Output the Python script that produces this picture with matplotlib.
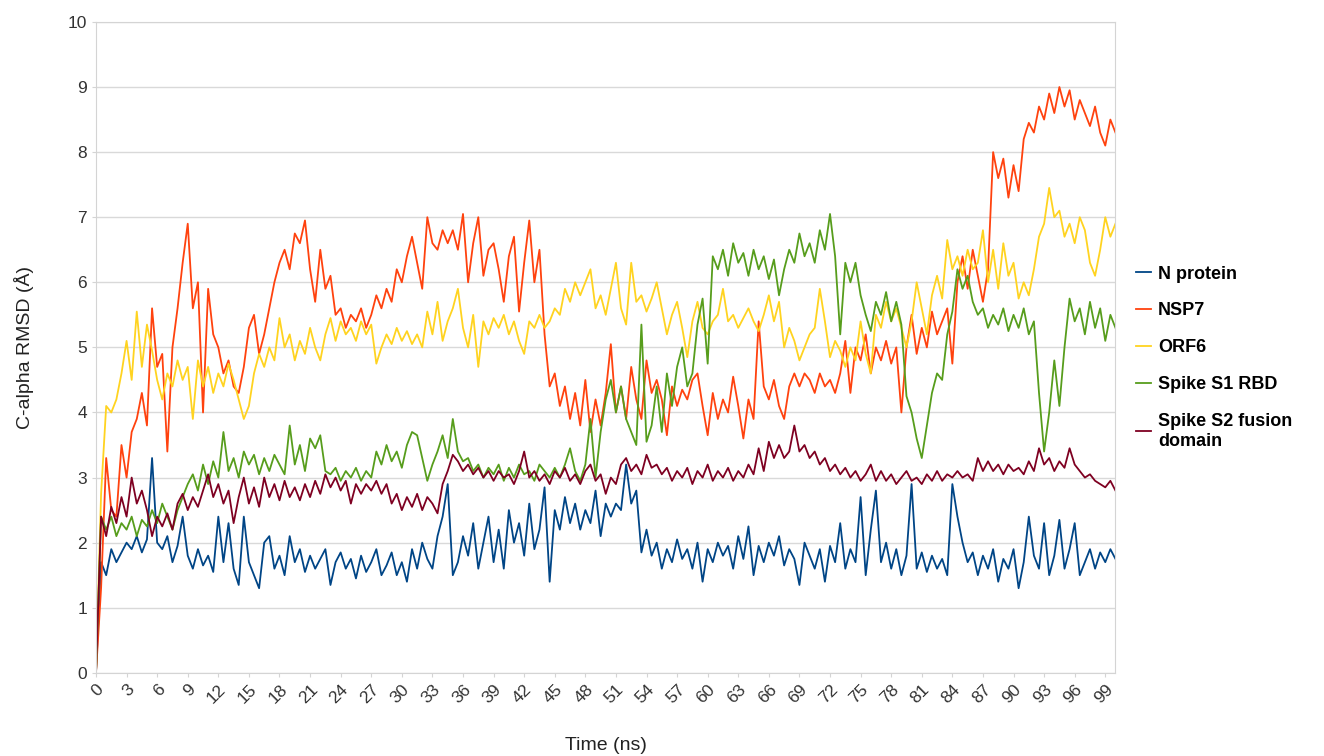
import numpy as np
import matplotlib
matplotlib.use("Agg")
import matplotlib.pyplot as plt

plt.rcParams['font.family'] = ['Liberation Sans', 'DejaVu Sans']

# time axis, one sample every 0.5 ns
time_ns = np.arange(0, 100.5, 0.5)

n_protein = [
    0.0, 1.7, 1.5, 1.9, 1.7, 1.85, 2.0, 1.9, 2.1, 1.85, 2.05, 3.3, 2.0, 1.9, 2.1, 1.7, 1.95, 2.4, 1.8, 1.6,
    1.9, 1.65, 1.8, 1.55, 2.4, 1.7, 2.3, 1.6, 1.35, 2.4, 1.7, 1.5, 1.3, 2.0, 2.1, 1.6, 1.8, 1.5, 2.1, 1.7,
    1.9, 1.55, 1.8, 1.6, 1.75, 1.9, 1.35, 1.7, 1.85, 1.6, 1.75, 1.45, 1.8, 1.55, 1.7, 1.9, 1.5, 1.65, 1.85, 1.5,
    1.7, 1.4, 1.9, 1.6, 2.0, 1.75, 1.6, 2.1, 2.4, 2.9, 1.5, 1.7, 2.1, 1.8, 2.3, 1.6, 2.0, 2.4, 1.7, 2.2,
    1.6, 2.5, 2.0, 2.3, 1.8, 2.6, 1.9, 2.2, 2.85, 1.4, 2.5, 2.2, 2.7, 2.3, 2.6, 2.2, 2.5, 2.3, 2.8, 2.1,
    2.6, 2.4, 2.6, 2.5, 3.2, 2.6, 2.8, 1.85, 2.2, 1.8, 2.0, 1.6, 1.9, 1.7, 2.05, 1.75, 1.9, 1.6, 2.0, 1.4,
    1.9, 1.7, 2.0, 1.8, 1.95, 1.6, 2.1, 1.75, 2.25, 1.5, 1.95, 1.7, 2.0, 1.8, 2.1, 1.65, 1.9, 1.75, 1.35, 2.0,
    1.8, 1.6, 1.9, 1.4, 1.95, 1.7, 2.3, 1.6, 1.9, 1.7, 2.7, 1.5, 2.2, 2.8, 1.7, 2.0, 1.6, 1.9, 1.5, 1.8,
    2.9, 1.6, 1.85, 1.55, 1.8, 1.6, 1.75, 1.5, 2.9, 2.4, 2.0, 1.7, 1.85, 1.5, 1.8, 1.6, 1.9, 1.4, 1.75, 1.6,
    1.9, 1.3, 1.7, 2.4, 1.8, 1.6, 2.3, 1.5, 1.8, 2.35, 1.6, 1.9, 2.3, 1.5, 1.7, 1.9, 1.6, 1.85, 1.7, 1.9,
    1.75,
]

nsp7 = [
    0.0, 1.3, 3.3, 2.5, 2.4, 3.5, 3.0, 3.7, 3.9, 4.3, 3.8, 5.6, 4.7, 4.9, 3.4, 5.0, 5.6, 6.3, 6.9, 5.6,
    6.0, 4.0, 5.9, 5.2, 5.0, 4.6, 4.8, 4.4, 4.3, 4.7, 5.3, 5.5, 4.9, 5.2, 5.6, 6.0, 6.3, 6.5, 6.2, 6.75,
    6.6, 6.95, 6.2, 5.7, 6.5, 5.9, 6.1, 5.5, 5.6, 5.3, 5.5, 5.4, 5.6, 5.3, 5.5, 5.8, 5.6, 5.9, 5.7, 6.2,
    6.0, 6.4, 6.7, 6.3, 5.9, 7.0, 6.6, 6.5, 6.8, 6.6, 6.8, 6.5, 7.05, 6.0, 6.6, 7.0, 6.1, 6.5, 6.6, 6.2,
    5.7, 6.4, 6.7, 5.55, 6.3, 6.95, 6.0, 6.5, 5.2, 4.4, 4.6, 4.1, 4.4, 3.9, 4.3, 3.8, 4.5, 3.7, 4.2, 3.8,
    4.3, 5.05, 4.0, 4.4, 3.9, 4.7, 4.2, 3.9, 4.8, 4.3, 4.5, 4.2, 3.65, 4.4, 4.1, 4.35, 4.2, 4.5, 4.6, 4.1,
    3.65, 4.3, 3.9, 4.2, 4.0, 4.55, 4.1, 3.6, 4.2, 3.9, 5.4, 4.4, 4.2, 4.5, 4.1, 3.9, 4.4, 4.6, 4.4, 4.6,
    4.5, 4.3, 4.6, 4.4, 4.5, 4.3, 4.6, 5.1, 4.3, 5.0, 4.8, 5.2, 4.6, 5.0, 4.8, 5.1, 4.75, 5.0, 4.0, 5.0,
    5.5, 4.9, 5.3, 5.0, 5.55, 5.2, 5.4, 5.6, 4.75, 6.0, 6.4, 5.9, 6.5, 6.1, 5.7, 6.2, 8.0, 7.6, 7.9, 7.3,
    7.8, 7.4, 8.2, 8.45, 8.3, 8.7, 8.5, 8.9, 8.6, 9.0, 8.7, 8.95, 8.5, 8.8, 8.6, 8.4, 8.7, 8.3, 8.1, 8.5,
    8.3,
]

orf6 = [
    0.0, 2.75, 4.1, 4.0, 4.2, 4.6, 5.1, 4.5, 5.55, 4.7, 5.35, 4.95, 4.5, 4.2, 4.6, 4.4, 4.8, 4.5, 4.7, 3.9,
    4.8, 4.4, 4.7, 4.3, 4.6, 4.4, 4.75, 4.5, 4.2, 3.9, 4.1, 4.6, 4.9, 4.7, 5.0, 4.8, 5.45, 5.0, 5.2, 4.8,
    5.1, 4.9, 5.3, 5.0, 4.8, 5.2, 5.45, 5.1, 5.4, 5.2, 5.3, 5.1, 5.4, 5.2, 5.35, 4.75, 5.0, 5.2, 5.05, 5.3,
    5.1, 5.25, 5.05, 5.2, 5.0, 5.55, 5.2, 5.7, 5.1, 5.4, 5.6, 5.9, 5.3, 5.0, 5.5, 4.7, 5.4, 5.2, 5.45, 5.3,
    5.5, 5.2, 5.4, 5.1, 4.9, 5.4, 5.3, 5.5, 5.3, 5.4, 5.6, 5.5, 5.9, 5.7, 6.0, 5.8, 6.0, 6.2, 5.6, 5.8,
    5.5, 5.9, 6.3, 5.6, 5.35, 6.3, 5.7, 5.8, 5.55, 5.75, 6.0, 5.6, 5.2, 5.5, 5.7, 5.3, 4.85, 5.4, 5.7, 5.3,
    5.2, 5.4, 5.5, 5.9, 5.4, 5.5, 5.3, 5.45, 5.6, 5.4, 5.25, 5.5, 5.8, 5.4, 5.7, 5.0, 5.3, 5.1, 4.8, 5.0,
    5.2, 5.3, 5.9, 5.4, 4.85, 5.1, 4.95, 4.7, 5.0, 4.8, 5.4, 4.9, 4.6, 5.5, 5.3, 5.7, 5.4, 5.6, 5.3, 5.0,
    5.4, 6.0, 5.6, 5.2, 5.8, 6.1, 5.75, 6.65, 6.2, 6.4, 6.1, 6.5, 6.2, 6.3, 6.8, 6.0, 6.5, 5.9, 6.6, 6.1,
    6.3, 5.75, 6.0, 5.8, 6.2, 6.7, 6.9, 7.45, 7.0, 7.1, 6.7, 6.9, 6.6, 7.0, 6.8, 6.3, 6.1, 6.5, 7.0, 6.7,
    6.9,
]

spike_s1_rbd = [
    0.0, 2.4, 2.2, 2.4, 2.1, 2.3, 2.2, 2.4, 2.1, 2.35, 2.25, 2.5, 2.3, 2.6, 2.4, 2.2, 2.5, 2.7, 2.9, 3.05,
    2.8, 3.2, 2.9, 3.25, 3.0, 3.7, 3.1, 3.3, 3.0, 3.4, 3.2, 3.35, 3.05, 3.3, 3.1, 3.35, 3.2, 3.05, 3.8, 3.2,
    3.5, 3.1, 3.6, 3.45, 3.65, 3.1, 3.05, 3.15, 2.95, 3.1, 3.0, 3.15, 2.95, 3.1, 3.0, 3.4, 3.2, 3.5, 3.25, 3.4,
    3.15, 3.5, 3.7, 3.65, 3.3, 2.95, 3.2, 3.4, 3.65, 3.3, 3.9, 3.4, 3.25, 3.3, 3.1, 3.2, 3.0, 3.15, 3.05, 3.2,
    2.95, 3.15, 3.0, 3.2, 3.05, 3.1, 2.95, 3.2, 3.1, 3.0, 3.15, 3.0, 3.2, 3.45, 3.1, 2.95, 3.2, 3.9, 3.0, 3.7,
    4.2, 4.5, 4.0, 4.4, 3.9, 3.7, 3.5, 5.35, 3.55, 3.8, 4.4, 3.7, 4.6, 4.1, 4.7, 5.0, 4.4, 4.6, 5.35, 5.75,
    4.75, 6.4, 6.2, 6.5, 6.1, 6.6, 6.3, 6.45, 6.1, 6.5, 6.2, 6.4, 6.05, 6.35, 5.8, 6.2, 6.5, 6.3, 6.75, 6.4,
    6.6, 6.3, 6.8, 6.5, 7.05, 6.4, 5.2, 6.3, 6.0, 6.3, 5.8, 5.5, 5.25, 5.7, 5.5, 5.85, 5.4, 5.7, 5.35, 4.25,
    4.0, 3.6, 3.3, 3.8, 4.3, 4.6, 4.5, 5.2, 5.55, 6.2, 5.9, 6.1, 5.7, 5.5, 5.6, 5.3, 5.5, 5.35, 5.6, 5.25,
    5.5, 5.3, 5.6, 5.2, 5.4, 4.3, 3.4, 4.0, 4.8, 4.1, 5.0, 5.75, 5.4, 5.6, 5.2, 5.7, 5.3, 5.6, 5.1, 5.5,
    5.3,
]

spike_s2 = [
    0.0, 2.4, 2.1, 2.55, 2.3, 2.7, 2.4, 3.0, 2.6, 2.8, 2.5, 2.1, 2.4, 2.25, 2.45, 2.2, 2.6, 2.75, 2.5, 2.7,
    2.55, 2.8, 3.05, 2.7, 2.9, 2.6, 2.8, 2.3, 2.7, 3.0, 2.6, 2.85, 2.55, 3.0, 2.7, 2.9, 2.65, 2.95, 2.7, 2.85,
    2.65, 2.9, 2.7, 2.95, 2.75, 3.05, 2.85, 3.0, 2.8, 2.95, 2.6, 2.9, 2.75, 2.9, 2.8, 2.95, 2.75, 2.9, 2.6, 2.75,
    2.5, 2.7, 2.55, 2.75, 2.5, 2.7, 2.6, 2.45, 2.9, 3.1, 3.35, 3.25, 3.1, 3.2, 3.05, 3.15, 3.0, 3.1, 2.95, 3.1,
    3.0, 3.05, 2.9, 3.1, 3.4, 3.0, 3.1, 2.95, 3.05, 2.9, 3.1, 3.0, 3.15, 2.95, 3.05, 2.9, 3.1, 3.2, 2.95, 3.05,
    2.75, 3.0, 2.9, 3.2, 3.3, 3.1, 3.2, 3.05, 3.35, 3.15, 3.2, 3.05, 3.15, 2.95, 3.1, 3.0, 3.15, 2.9, 3.1, 3.0,
    3.2, 2.95, 3.1, 3.0, 3.15, 2.95, 3.1, 3.0, 3.2, 3.05, 3.45, 3.1, 3.55, 3.3, 3.5, 3.3, 3.4, 3.8, 3.4, 3.5,
    3.3, 3.4, 3.2, 3.3, 3.1, 3.2, 3.05, 3.15, 3.0, 3.1, 2.95, 3.05, 3.2, 2.95, 3.1, 2.95, 3.05, 2.9, 3.0, 3.1,
    2.95, 3.0, 2.9, 3.05, 2.95, 3.1, 2.95, 3.05, 3.0, 3.1, 3.0, 3.05, 2.95, 3.3, 3.1, 3.25, 3.1, 3.2, 3.05, 3.2,
    3.1, 3.15, 3.05, 3.25, 3.1, 3.45, 3.2, 3.3, 3.1, 3.25, 3.15, 3.45, 3.2, 3.1, 3.0, 3.05, 2.95, 2.9, 2.85, 2.95,
    2.8,
]

series_names = ["N protein", "NSP7", "ORF6", "Spike S1 RBD", "Spike S2 fusion\ndomain"]
series_values = [n_protein, nsp7, orf6, spike_s1_rbd, spike_s2]
series_colors = ["#004586", "#ff420e", "#ffd320", "#579d1c", "#7e0021"]
x_ticks = list(range(0, 100, 3))

fig = plt.figure(figsize=(13.24, 7.56), dpi=100)
ax = fig.add_axes([0.0725, 0.110, 0.770, 0.861])

for name, vals, col in zip(series_names, series_values, series_colors):
    ax.plot(time_ns, vals, color=col, lw=1.3, label=name)

ax.set_xlim(0, 100)
ax.set_ylim(0, 10)
ax.set_yticks(range(0, 11))
ax.set_xticks(x_ticks)
ax.set_xticklabels([str(v) for v in x_ticks], rotation=45, ha='right',
                   rotation_mode='anchor')
ax.tick_params(axis='both', labelsize=12.5, colors='#333333', length=3,
               color='#d4d4d4')
ax.yaxis.grid(True, color='#d9d9d9', lw=1)
ax.set_axisbelow(True)
for sp in ax.spines.values():
    sp.set_color('#d4d4d4')

ax.set_ylabel("C-alpha RMSD (Å)", fontsize=14, labelpad=24, color='#222222')
ax.set_xlabel("Time (ns)", fontsize=14, labelpad=22, color='#222222')

leg = fig.legend(loc='center left', bbox_to_anchor=(0.846, 0.527), frameon=False,
                 handlelength=0.8, handletextpad=0.4, labelspacing=1.1,
                 prop={'weight': 'bold', 'size': 13})

fig.savefig("out.png", dpi=100)
